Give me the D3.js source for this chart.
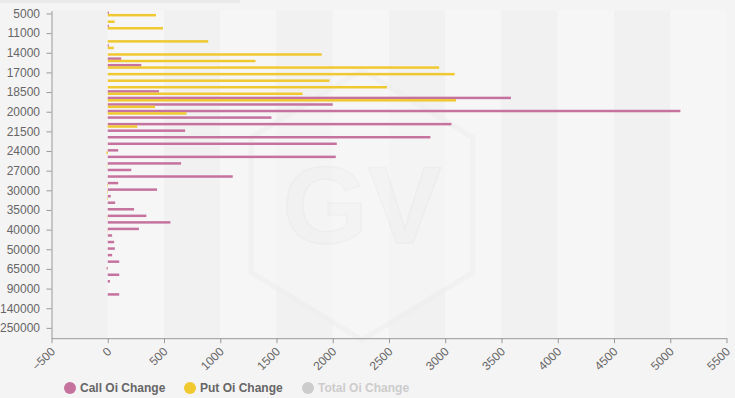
<!DOCTYPE html>
<html>
<head>
<meta charset="utf-8">
<script src="https://cdn.jsdelivr.net/npm/d3@7"></script>
<style>
  html, body { margin: 0; padding: 0; background: #f5f4f5; }
  svg { display: block; font-family: "Liberation Sans", Arial, sans-serif; }
</style>
</head>
<body>
<div id="chart"></div>
<script>
// strike prices, top to bottom
const strikes = ["5000","8000","10000","11000","12000","13000","14000","15000","16000","17000",
  "17500","18000","18500","19000","19500","20000","20500","21000","21500","22000",
  "23000","24000","25000","26000","27000","28000","29000","30000","32000","34000",
  "35000","36000","38000","40000","45000","48000","50000","55000","60000","65000",
  "70000","80000","90000","100000","120000","140000","150000","200000","250000","300000"];

const callOiChange = [10,0,10,0,0,10,0,120,298,0,
  0,0,455,3584,2000,5090,1455,3055,688,2868,
  2036,93,2027,652,209,1111,93,438,27,66,
  234,343,557,277,39,57,63,39,102,-10,
  102,20,0,102,0,0,0,0,0,0];

const putOiChange = [429,62,491,0,893,54,1902,1313,2946,3084,
  1971,2482,1732,3096,420,700,0,262,0,0,
  0,-12,0,-3,0,0,-5,-5,-5,0,
  0,-3,0,-3,0,0,0,0,0,0,
  0,0,0,0,0,0,0,0,0,0];

const xTicks = [-500,0,500,1000,1500,2000,2500,3000,3500,4000,4500,5000,5500];

const legendItems = [
  { name: "Call Oi Change", color: "#c5739e", on: true },
  { name: "Put Oi Change", color: "#f0c830", on: true },
  { name: "Total Oi Change", color: "#cccccc", on: false }
];

const width = 735, height = 398;
const plotLeft = 51.5, plotRight = 726.5, plotTop = 10.7, plotBottom = 338.2;

const svg = d3.select("#chart").append("svg")
  .attr("width", width)
  .attr("height", height);

const x = d3.scaleLinear().domain([-500, 5500]).range([plotLeft, plotRight]);
const y = d3.scaleBand().domain(strikes).range([plotTop, plotBottom]).padding(0);

// thin strip at the very top of the page
svg.append("rect").attr("x", 0).attr("y", 0).attr("width", 240).attr("height", 3).attr("fill", "#ebeaeb");

// split area bands
svg.append("g").selectAll("rect")
  .data(xTicks.slice(0, -1))
  .enter().append("rect")
  .attr("x", d => x(d))
  .attr("y", plotTop)
  .attr("width", d => x(d + 500) - x(d))
  .attr("height", plotBottom - plotTop)
  .attr("fill", (d, i) => i % 2 === 0 ? "#f2f1f2" : "#f7f6f7");

// faint watermark
const wm = svg.append("g").attr("transform", "translate(362,205)").attr("opacity", 0.5);
const hex = d3.range(6).map(i => {
  const a = Math.PI / 3 * i - Math.PI / 2;
  return [Math.cos(a) * 128, Math.sin(a) * 135];
});
wm.append("path")
  .attr("d", d3.line()(hex) + "Z")
  .attr("fill", "#f8f7f8")
  .attr("stroke", "#efeeef")
  .attr("stroke-width", 5);
wm.append("text")
  .attr("text-anchor", "middle")
  .attr("y", 38)
  .attr("font-size", 110)
  .attr("font-weight", "bold")
  .attr("fill", "#f3f2f3")
  .attr("stroke", "#ebeaeb")
  .attr("stroke-width", 1.5)
  .text("GV");

// bars
const barH = 2.5;
svg.append("g").selectAll("rect")
  .data(callOiChange)
  .enter().append("rect")
  .attr("x", d => x(Math.min(0, d)))
  .attr("y", (d, i) => y(strikes[i]) + y.bandwidth() / 2 - 2.45)
  .attr("width", d => Math.abs(x(d) - x(0)))
  .attr("height", barH)
  .attr("fill", "#c5739e");

svg.append("g").selectAll("rect")
  .data(putOiChange)
  .enter().append("rect")
  .attr("x", d => x(Math.min(0, d)))
  .attr("y", (d, i) => y(strikes[i]) + y.bandwidth() / 2 - 0.05)
  .attr("width", d => Math.abs(x(d) - x(0)))
  .attr("height", barH)
  .attr("fill", "#f0c830");

// y axis
const yAxis = svg.append("g")
  .attr("transform", `translate(${plotLeft},0)`)
  .call(d3.axisLeft(y)
    .tickValues(strikes.filter((d, i) => i % 3 === 0 && i < 49))
    .tickSize(5)
    .tickSizeOuter(0)
    .tickPadding(6.5));
yAxis.select(".domain").attr("stroke", "#999");
yAxis.selectAll(".tick line").attr("stroke", "#999");
yAxis.selectAll(".tick text")
  .attr("fill", "#666")
  .attr("font-size", 12)
  .attr("font-family", "'Liberation Sans', Arial, sans-serif");

// x axis
const xAxis = svg.append("g")
  .attr("transform", `translate(0,${plotBottom})`)
  .call(d3.axisBottom(x).tickValues(xTicks).tickSize(5).tickSizeOuter(0).tickFormat(d3.format("d")));
xAxis.select(".domain").attr("stroke", "#999");
xAxis.selectAll(".tick line").attr("stroke", "#999");
xAxis.selectAll(".tick text")
  .attr("fill", "#666")
  .attr("font-size", 12)
  .attr("font-family", "'Liberation Sans', Arial, sans-serif")
  .attr("text-anchor", "end")
  .attr("dy", null)
  .attr("y", 0)
  .attr("transform", "translate(4,14) rotate(-45)");

// legend
const legendX = [70, 190, 308];
const lg = svg.append("g").selectAll("g")
  .data(legendItems)
  .enter().append("g")
  .attr("transform", (d, i) => `translate(${legendX[i]},388)`);
lg.append("circle")
  .attr("r", 6)
  .attr("fill", d => d.color);
lg.append("text")
  .attr("x", 10)
  .attr("dy", "0.35em")
  .attr("font-size", 12)
  .attr("font-weight", "bold")
  .attr("fill", d => d.on ? "#666" : "#cccccc")
  .text(d => d.name);
</script>
</body>
</html>
